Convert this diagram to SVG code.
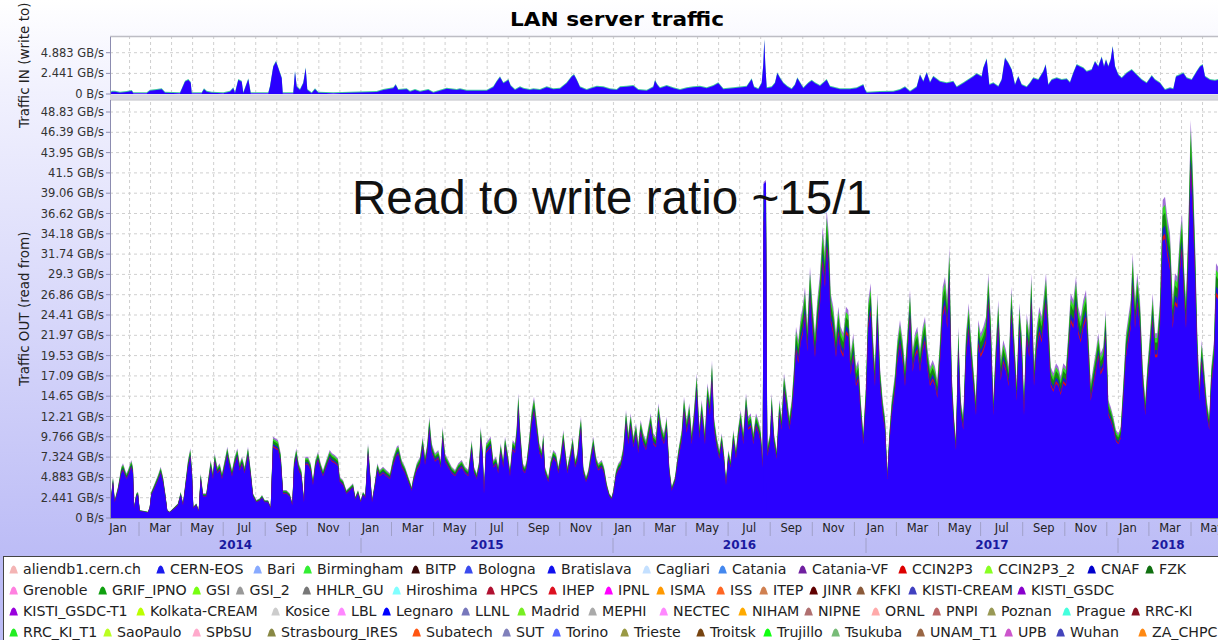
<svg xmlns="http://www.w3.org/2000/svg" xmlns:xlink="http://www.w3.org/1999/xlink" width="1218" height="640" viewBox="0 0 1218 640">
<style>
.ax{font-family:"DejaVu Sans","Liberation Sans",sans-serif;font-size:11.5px;fill:#333}
.yl{text-anchor:end}
.mo{text-anchor:middle;fill:#222}
.yr{font-family:"DejaVu Sans","Liberation Sans",sans-serif;font-size:12px;font-weight:bold;fill:#1a1aa0;text-anchor:middle}
.tt{font-family:"DejaVu Sans","Liberation Sans",sans-serif;font-size:13.5px;fill:#222}
.lg{font-family:"DejaVu Sans","Liberation Sans",sans-serif;font-size:13.5px;fill:#222}
.hg{stroke:#cfcfcf;stroke-width:1;stroke-dasharray:3 3;fill:none}
.axl{stroke:#8c8cb0;stroke-width:1;fill:none}
</style>
<defs>
<linearGradient id="bg" gradientUnits="userSpaceOnUse" x1="0" y1="0" x2="0" y2="556">
<stop offset="0" stop-color="#ffffff"/><stop offset="0.15" stop-color="#f2f2fe"/><stop offset="1" stop-color="#bcbcf6"/>
</linearGradient>
<pattern id="vg" patternUnits="userSpaceOnUse" x="129" y="0" width="21.04" height="640">
<line x1="0.5" y1="0" x2="0.5" y2="640" stroke="#cfcfcf" stroke-width="1" stroke-dasharray="3 3"/>
</pattern>
<clipPath id="clipT"><rect x="110" y="37" width="1108" height="57"/></clipPath>
<clipPath id="clipB"><rect x="110" y="100" width="1108" height="418"/></clipPath>
<path id="ic" d="M0,9 L2,3 Q4.1,-1 6.2,3 L8.2,9 Z"/>
<path id="envT" d="M110,94 L111.7,91.7 L115,91.7 L120,92.7 L126.7,92 L131.7,91 L133.3,93.3 L146.7,93.3 L150,90.7 L156.7,90 L161.7,89.3 L165,92.7 L180,93.3 L185,81.7 L188.3,80 L190.7,82.7 L191.7,93.3 L201.7,93.3 L204,89.3 L206.7,91.7 L211.7,92.7 L223.3,93.3 L230,91.7 L233.3,88.3 L235,93.3 L238.3,80 L241.7,81.7 L243.3,93.3 L248.3,79.3 L250.7,93.3 L268.3,93.3 L270,86.7 L273.3,66.7 L276,61.7 L278.3,68.3 L281.7,78.3 L282.7,93.3 L293.3,93.3 L295,71.7 L296.7,86.7 L300,90 L303.3,83.3 L305.7,68.3 L307.3,90 L311.7,93.3 L315,89.3 L318.3,92.7 L333.3,93.3 L350,92.7 L376.7,92 L383.3,90 L393.3,88.3 L395.7,85 L398.3,90 L406.7,89.3 L410,91.7 L415,90 L420,91.7 L428.3,90 L433.3,92.7 L446.7,88.7 L456.7,90 L460,89.3 L466.7,90.7 L486.7,90.7 L493.3,87.3 L496.7,81.7 L500,77.3 L503.3,83.3 L506,81.7 L508.3,80 L510.7,86 L515,90 L520,87.3 L523.3,88.7 L530,90 L533.3,89.3 L540,90 L546.7,87.3 L553.3,89.3 L560,88.7 L566.7,83.3 L571.7,76.7 L574,75 L576.7,80 L580,87.3 L586.7,90 L591.7,88.3 L596.7,86.7 L603.3,87.3 L610,89.3 L616.7,90 L620,87.3 L626.7,86.7 L633.3,86 L638.3,90 L646.7,90.7 L653.3,87.3 L655,80.7 L657.3,85 L660,88.3 L666.7,86 L673.3,88.3 L680,90 L686.7,88.3 L693.3,87.3 L700,86.7 L706.7,88.3 L713.3,86 L718.3,83.3 L723.3,89.3 L733.3,88.3 L746.7,86.7 L751.7,79.3 L754,87.3 L758.3,89.3 L761.7,83.3 L763.3,65 L764.3,40 L765.3,65 L766.7,88.3 L771.7,87.3 L775,83.3 L777.3,73.3 L780,78.3 L783.3,83.3 L787.3,86.7 L791.7,89.3 L795,85 L797.3,78.3 L800,82.7 L803.3,88.3 L808.3,83.3 L811.7,80.7 L815,83.3 L820,86 L826.7,80 L830,86.7 L840,89.3 L850,89.3 L856.7,88.3 L863.3,85 L865,90 L866.7,92.7 L880,92 L893.3,91.7 L900,90 L905,87.3 L910,91.7 L916.7,87.3 L920,75 L923.3,81.7 L926.7,72.7 L930,82.7 L933.3,76.7 L940,81.7 L946.7,83.3 L953.3,81.7 L956.7,87.3 L963.3,83.3 L968.3,80 L973.3,76.7 L976.7,74 L981.7,76.7 L983.3,68.3 L986.7,59.3 L989.3,85 L993.3,83.3 L998.3,86.7 L1001.7,80 L1005,58.3 L1008.3,63.3 L1011.7,70 L1015,85 L1018.3,76.7 L1021.7,85 L1026.7,87.3 L1030,83.3 L1033.3,78.3 L1038.3,80 L1043.3,71.7 L1045.7,65 L1048.3,85 L1051.7,80 L1056.7,78.3 L1061.7,80 L1066.7,79.3 L1070,82.7 L1073.3,73.3 L1076.7,65 L1080,66.7 L1083.3,68.3 L1086.7,71.7 L1091.7,70 L1095,61.7 L1098.3,66.7 L1101.7,57.3 L1104,66.7 L1106,60 L1108.3,66.7 L1110.7,60 L1112.7,46.7 L1115,66.7 L1118.3,75 L1121.7,78.3 L1126.7,73.3 L1131.7,70 L1136.7,75 L1141.7,80 L1146.7,83.3 L1151.7,76 L1155,80 L1160,83.3 L1165,90 L1170,88.3 L1173.3,89.3 L1176,76.7 L1180,75 L1183.3,73.3 L1186.7,78.3 L1191.7,80 L1196.7,71.7 L1200,66.7 L1202.7,65 L1205,76.7 L1210,80 L1215,80.7 L1218,80 L1218,94 Z"/>
<path id="envB" d="M110,518 L110,507 L113,477 L114.7,500 L118,486.7 L121.3,466.7 L123,463.3 L126.3,473.3 L128,470 L131.3,460 L133,466.7 L134,506.7 L136.3,493.3 L138,491.7 L139.7,510 L148,511.7 L149.7,506.7 L151.3,491.7 L154.7,483.3 L158,475 L160.7,466.7 L163,476.7 L165.3,493.3 L167.3,510 L169.7,511.7 L174.7,506.7 L178,503.3 L180.7,491.7 L183,503.3 L185.3,483.3 L188,460 L190.3,448.3 L192,470 L193.3,506.7 L196.3,503.3 L198.7,510 L200.7,473.3 L203,493.3 L206.3,493.3 L208,480 L210.7,460 L213,473.3 L214.7,453.3 L217.3,466.7 L219.7,463.3 L222,473.3 L224.7,460 L227.3,446.7 L229.7,460 L232,470 L234.7,456.7 L237.3,448.3 L239.7,463.3 L242,456.7 L244.7,466.7 L248,446.7 L250.7,470 L253,493.3 L256.3,500 L259.7,498.3 L262,495 L264.7,500 L268,500 L270.7,506.7 L273,436.7 L275.3,438.3 L278,440 L280.7,453.3 L283,490 L286.3,490 L289.7,493.3 L292.3,503.3 L294,460 L296.3,448.3 L298.7,463.3 L301.3,470 L304,500 L305.3,456.7 L308,456.7 L310.7,463.3 L313,480 L315.3,460 L318,451.7 L320.7,463.3 L323,470 L326.3,460 L329.7,450 L332,453.3 L334.7,455 L338,458.3 L339.7,476.7 L343,480 L346.3,490 L349.7,486.7 L353,483.3 L355.3,496.7 L358,490 L360.7,500 L363,491.7 L365.3,495 L368,443.3 L370,470 L372,500 L374.7,483.3 L377.3,463.3 L379.7,470 L383,466.7 L386.3,470 L390,473.3 L393.3,456.7 L396.7,446.7 L398.3,445 L401.7,460 L405,466.7 L408.3,476.7 L411.7,486.7 L413.3,476.7 L416.7,463.3 L420,456.7 L422.7,436.7 L425,456.7 L427.3,443.3 L429.3,416.7 L431.7,443.3 L435,453.3 L438.3,450 L440.7,460 L442.7,426.7 L445,453.3 L448.3,460 L451.7,466.7 L455,470 L458.3,463.3 L461.7,460 L465,466.7 L468.3,470 L471.7,440 L474,466.7 L476.7,473.3 L479.3,460 L480.7,426.7 L482.7,450 L484,490 L486,443.3 L488.3,440 L490.7,436.7 L493.3,460 L496,456.7 L498.3,466.7 L500.7,443.3 L503.3,460 L505,436.7 L507.3,450 L510,470 L512.7,440 L515,443.3 L516.7,426.7 L518.3,393.3 L520,426.7 L522.7,463.3 L525,466.7 L526.7,460 L529.3,436.7 L531.7,410 L534,396.7 L536.7,420 L539.3,443.3 L541.7,450 L543.3,433.3 L545,466.7 L548.3,476.7 L550.7,460 L553.3,450 L556,453.3 L558.3,466.7 L560.7,453.3 L563.3,430 L565,446.7 L567.3,466.7 L570,453.3 L572.7,436.7 L575,460 L577.3,453.3 L579.3,430 L581,416.7 L583.3,466.7 L586,476.7 L588.3,470 L590.7,453.3 L593.3,436.7 L596,456.7 L598.3,463.3 L601.7,460 L604,466.7 L606.7,483.3 L609.3,493.3 L611.7,496.7 L613.3,490 L616,470 L618.3,463.3 L620.7,460 L623.3,446.7 L626,410 L628.3,433.3 L630.7,413.3 L633.3,436.7 L636,423.3 L638.3,443.3 L640.7,420 L643.3,433.3 L646,440 L648.3,426.7 L650.7,413.3 L653.3,433.3 L656,436.7 L658.3,403.3 L661.7,426.7 L664,433.3 L666.7,416.7 L669.3,466.7 L671.7,486.7 L675,476.7 L678.3,450 L681.7,430 L684,396.7 L686.7,420 L689.3,403.3 L691.7,433.3 L694,410 L696.7,373.3 L699.3,426.7 L701.7,400 L705,433.3 L707.3,383.3 L710,400 L712,360 L714,416.7 L716.7,436.7 L719.3,450 L721.7,433.3 L724,453.3 L726,480 L728.3,450 L730.7,460 L733.3,430 L736,450 L738.3,426.7 L740.7,410 L743.3,433.3 L746,393.3 L748.3,416.7 L750.7,413.3 L753.3,433.3 L756,413.3 L758.3,420 L760.7,430 L762.7,460 L763.6,182 L766,180 L767.3,446.7 L770,433.3 L771.7,393.3 L774,433.3 L776.7,450 L779.3,400 L781.7,416.7 L784,373.3 L786.7,393.3 L789.3,416.7 L791.7,400 L794,366.7 L796,326.7 L798.3,340 L800.7,316.7 L802.7,306.7 L805,286.7 L807.3,326.7 L810,266.7 L812.7,306.7 L815,333.3 L817.3,300 L820,273.3 L822.7,226.7 L825,253.3 L826.7,210 L828.7,233.3 L830.7,293.3 L833.3,306.7 L836,333.3 L838.3,306.7 L840.7,326.7 L843.3,333.3 L846,306.7 L848.3,310 L850.7,353.3 L853.3,333.3 L856,366.7 L858.3,360 L860.7,400 L863.3,433.3 L866,383.3 L868.3,300 L870.7,283.3 L872.7,333.3 L875,366.7 L877.3,293.3 L880,366.7 L882.7,400 L885,416.7 L887.3,473.3 L889.3,433.3 L891.7,400 L895,373.3 L897.3,340 L900,320 L902.7,340 L905,366.7 L907.3,333.3 L910,290 L912.7,350 L915,333.3 L917.3,326.7 L920,350 L922.7,326.7 L925,316.7 L927.3,346.7 L930,366.7 L932.7,360 L935,366.7 L937.3,380 L940,340 L942.7,286.7 L945,276.7 L947.3,300 L949.3,246.7 L951.7,373.3 L954,416.7 L956,440 L958.3,326.7 L960.7,400 L963.3,416.7 L966,333.3 L968.7,303.3 L970.7,333.3 L973.3,366.7 L976,400 L978.3,320 L980.7,333.3 L983.3,326.7 L986,316.7 L988.3,273.3 L990.7,316.7 L993.3,400 L996,340 L998.3,300 L1000.7,360 L1003.3,340 L1006,350 L1008.7,366.7 L1011.3,286.7 L1014,333.3 L1016.7,383.3 L1019.3,303.3 L1021.7,333.3 L1024,400 L1026.7,313.3 L1029.3,333.3 L1031.3,273.3 L1034,366.7 L1036.7,326.7 L1039.3,306.7 L1041.7,316.7 L1044,293.3 L1046,273.3 L1048.3,316.7 L1050.7,366.7 L1053.3,373.3 L1056,363.3 L1058.3,366.7 L1060.7,376.7 L1063.3,363.3 L1066,366.7 L1068.3,333.3 L1070.7,293.3 L1073.3,300 L1076,276.7 L1078.3,306.7 L1080.7,316.7 L1083.3,300 L1086,290 L1088.3,333.3 L1090.7,383.3 L1093.3,366.7 L1096,350 L1098.3,333.3 L1100.7,353.3 L1103.3,346.7 L1105.7,310 L1108.3,400 L1110.7,406.7 L1113.3,416.7 L1116,430 L1118.3,433.3 L1120.7,426.7 L1123.3,383.3 L1126,333.3 L1128.3,316.7 L1130.7,300 L1132.7,253.3 L1135,300 L1137.3,273.3 L1140,300 L1142.7,366.7 L1145.3,400 L1147.3,366.7 L1150,333.3 L1152.7,293.3 L1155,333.3 L1157.3,333.3 L1160,300 L1162.7,200 L1165,196.7 L1167.3,216.7 L1170,233.3 L1172.7,300 L1175,273.3 L1177.3,276.7 L1180,233.3 L1182,213.3 L1184,266.7 L1186,300 L1188.3,226.7 L1190.7,120 L1192.7,166.7 L1195,240 L1197.3,333.3 L1199.3,383.3 L1201.7,340 L1204,366.7 L1206.7,400 L1209.3,416.7 L1211.3,366.7 L1214,340 L1216,263.3 L1218,266.7 L1218,518 Z"/>
</defs>

<rect id="background" x="0" y="0" width="1218" height="640" fill="url(#bg)"/>

<g id="title">
<text x="617" y="26" text-anchor="middle" font-family="DejaVu Sans, Liberation Sans, sans-serif" font-size="19" font-weight="bold" fill="#000" textLength="214" lengthAdjust="spacingAndGlyphs">LAN server traffic</text>
</g>

<g id="plot-in">
<rect x="110" y="37" width="1108" height="57" fill="#ffffff"/>
<rect x="110" y="37" width="1108" height="57" fill="url(#vg)"/>
<path class="hg" d="M110,52.7H1218 M110,73.4H1218"/>
<g clip-path="url(#clipT)">
<use xlink:href="#envT" fill="#40c8a0" transform="translate(0,-1)"/>
<use xlink:href="#envT" fill="#2a00ff"/>
</g>
<line x1="110" y1="36.5" x2="1218" y2="36.5" stroke="#bdbdc4" stroke-width="1.5"/>
<rect x="110" y="94.5" width="1108" height="5" fill="#d6d6de"/>
<path class="axl" d="M110.5,37V94.5 M106,52.7H110 M106,73.4H110 M106,94H110"/>
<text class="ax yl" x="104" y="56.7">4.883 GB/s</text>
<text class="ax yl" x="104" y="77.4">2.441 GB/s</text>
<text class="ax yl" x="104" y="98">0 B/s</text>
</g>

<g id="plot-out">
<rect x="110" y="100" width="1108" height="418" fill="#ffffff"/>
<rect x="110" y="100" width="1108" height="418" fill="url(#vg)"/>
<path class="hg" d="M110,497.7H1218 M110,477.4H1218 M110,457.1H1218 M110,436.8H1218 M110,416.5H1218 M110,396.2H1218 M110,375.9H1218 M110,355.6H1218 M110,335.3H1218 M110,315H1218 M110,294.7H1218 M110,274.4H1218 M110,254.1H1218 M110,233.8H1218 M110,213.5H1218 M110,193.2H1218 M110,172.9H1218 M110,152.6H1218 M110,132.3H1218 M110,112H1218"/>
<g clip-path="url(#clipB)">
<use xlink:href="#envB" fill="#a070d8"/>
<use xlink:href="#envB" fill="#33dd22" transform="matrix(1,0,0,0.975,0,12.95)"/>
<use xlink:href="#envB" fill="#118811" transform="matrix(1,0,0,0.95,0,25.9)"/>
<use xlink:href="#envB" fill="#1a1ad0" transform="matrix(1,0,0,0.91,0,46.62)"/>
<use xlink:href="#envB" fill="#e01010" transform="matrix(1,0,0,0.885,0,59.57)"/>
<use xlink:href="#envB" fill="#2a00ff" transform="matrix(1,0,0,0.87,0,67.34)"/>
<path d="M763,518 L763.6,184 L766,182 L766.6,518 Z" fill="#2a00ff"/>
</g>
<line x1="110" y1="100" x2="1218" y2="100" stroke="#bdbdc4" stroke-width="1"/>
<path class="axl" d="M110.5,100V518.5 M110,518.5H1218"/>
<path class="axl" d="M106,518H110 M106,497.7H110 M106,477.4H110 M106,457.1H110 M106,436.8H110 M106,416.5H110 M106,396.2H110 M106,375.9H110 M106,355.6H110 M106,335.3H110 M106,315H110 M106,294.7H110 M106,274.4H110 M106,254.1H110 M106,233.8H110 M106,213.5H110 M106,193.2H110 M106,172.9H110 M106,152.6H110 M106,132.3H110 M106,112H110"/>
<text class="ax yl" x="104" y="522">0 B/s</text>
<text class="ax yl" x="104" y="501.7">2.441 GB/s</text>
<text class="ax yl" x="104" y="481.4">4.883 GB/s</text>
<text class="ax yl" x="104" y="461.1">7.324 GB/s</text>
<text class="ax yl" x="104" y="440.8">9.766 GB/s</text>
<text class="ax yl" x="104" y="420.5">12.21 GB/s</text>
<text class="ax yl" x="104" y="400.2">14.65 GB/s</text>
<text class="ax yl" x="104" y="379.9">17.09 GB/s</text>
<text class="ax yl" x="104" y="359.6">19.53 GB/s</text>
<text class="ax yl" x="104" y="339.3">21.97 GB/s</text>
<text class="ax yl" x="104" y="319">24.41 GB/s</text>
<text class="ax yl" x="104" y="298.7">26.86 GB/s</text>
<text class="ax yl" x="104" y="278.4">29.3 GB/s</text>
<text class="ax yl" x="104" y="258.1">31.74 GB/s</text>
<text class="ax yl" x="104" y="237.8">34.18 GB/s</text>
<text class="ax yl" x="104" y="217.5">36.62 GB/s</text>
<text class="ax yl" x="104" y="197.2">39.06 GB/s</text>
<text class="ax yl" x="104" y="176.9">41.5 GB/s</text>
<text class="ax yl" x="104" y="156.6">43.95 GB/s</text>
<text class="ax yl" x="104" y="136.3">46.39 GB/s</text>
<text class="ax yl" x="104" y="116">48.83 GB/s</text>
</g>

<g id="axis-titles">
<text class="tt" transform="translate(29,128) rotate(-90)">Traffic IN (write to)</text>
<text class="tt" transform="translate(29,386) rotate(-90)">Traffic OUT (read from)</text>
</g>

<g id="x-axis">
<path d="M139,522v14 M181.1,522v14 M223.2,522v14 M265.2,522v14 M307.3,522v14 M349.4,522v14 M391.5,522v14 M433.6,522v14 M475.6,522v14 M517.7,522v14 M559.8,522v14 M601.9,522v14 M644,522v14 M686,522v14 M728.1,522v14 M770.2,522v14 M812.3,522v14 M854.4,522v14 M896.4,522v14 M938.5,522v14 M980.6,522v14 M1022.7,522v14 M1064.8,522v14 M1106.8,522v14 M1148.9,522v14 M1191,522v14 M361,538v15 M613,538v15 M866,538v15 M1118,538v15" stroke="#a0a0c8" stroke-width="1" fill="none"/>
<text class="ax mo" x="118" y="532">Jan</text>
<text class="ax mo" x="160.1" y="532">Mar</text>
<text class="ax mo" x="202.2" y="532">May</text>
<text class="ax mo" x="244.2" y="532">Jul</text>
<text class="ax mo" x="286.3" y="532">Sep</text>
<text class="ax mo" x="328.4" y="532">Nov</text>
<text class="ax mo" x="370.5" y="532">Jan</text>
<text class="ax mo" x="412.6" y="532">Mar</text>
<text class="ax mo" x="454.6" y="532">May</text>
<text class="ax mo" x="496.7" y="532">Jul</text>
<text class="ax mo" x="538.8" y="532">Sep</text>
<text class="ax mo" x="580.9" y="532">Nov</text>
<text class="ax mo" x="623" y="532">Jan</text>
<text class="ax mo" x="665" y="532">Mar</text>
<text class="ax mo" x="707.1" y="532">May</text>
<text class="ax mo" x="749.2" y="532">Jul</text>
<text class="ax mo" x="791.3" y="532">Sep</text>
<text class="ax mo" x="833.4" y="532">Nov</text>
<text class="ax mo" x="875.4" y="532">Jan</text>
<text class="ax mo" x="917.5" y="532">Mar</text>
<text class="ax mo" x="959.6" y="532">May</text>
<text class="ax mo" x="1001.7" y="532">Jul</text>
<text class="ax mo" x="1043.8" y="532">Sep</text>
<text class="ax mo" x="1085.8" y="532">Nov</text>
<text class="ax mo" x="1127.9" y="532">Jan</text>
<text class="ax mo" x="1170" y="532">Mar</text>
<text class="ax mo" x="1212.1" y="532">May</text>
<text class="yr" x="235.5" y="548.5">2014</text>
<text class="yr" x="487" y="548.5">2015</text>
<text class="yr" x="739.5" y="548.5">2016</text>
<text class="yr" x="992" y="548.5">2017</text>
<text class="yr" x="1168" y="548.5">2018</text>
</g>

<g id="annotation">
<text x="352" y="214" font-family="Liberation Sans, Arial, sans-serif" font-size="47.6" fill="#111">Read to write ratio ~15/1</text>
</g>

<g id="legend">
<rect x="3.5" y="556.5" width="1220" height="90" fill="#ffffff" stroke="#444" stroke-width="1"/>
<g transform="scale(1.05 1)">
<g class="lg">
<g transform="translate(21.9,574)"><use xlink:href="#ic" x="-13" y="-9.5" fill="#f4b4b4"/><text>aliendb1.cern.ch</text></g>
<g transform="translate(161.9,574)"><use xlink:href="#ic" x="-13" y="-9.5" fill="#1a1aee"/><text>CERN-EOS</text></g>
<g transform="translate(254.3,574)"><use xlink:href="#ic" x="-13" y="-9.5" fill="#88aaff"/><text>Bari</text></g>
<g transform="translate(301.9,574)"><use xlink:href="#ic" x="-13" y="-9.5" fill="#33ee33"/><text>Birmingham</text></g>
<g transform="translate(404.8,574)"><use xlink:href="#ic" x="-13" y="-9.5" fill="#3a0808"/><text>BITP</text></g>
<g transform="translate(455.2,574)"><use xlink:href="#ic" x="-13" y="-9.5" fill="#3a4aee"/><text>Bologna</text></g>
<g transform="translate(534.3,574)"><use xlink:href="#ic" x="-13" y="-9.5" fill="#1010ee"/><text>Bratislava</text></g>
<g transform="translate(624.8,574)"><use xlink:href="#ic" x="-13" y="-9.5" fill="#c4e0ff"/><text>Cagliari</text></g>
<g transform="translate(697.1,574)"><use xlink:href="#ic" x="-13" y="-9.5" fill="#4488ee"/><text>Catania</text></g>
<g transform="translate(773.3,574)"><use xlink:href="#ic" x="-13" y="-9.5" fill="#7020a0"/><text>Catania-VF</text></g>
<g transform="translate(868.6,574)"><use xlink:href="#ic" x="-13" y="-9.5" fill="#dd0000"/><text>CCIN2P3</text></g>
<g transform="translate(950.5,574)"><use xlink:href="#ic" x="-13" y="-9.5" fill="#88ff22"/><text>CCIN2P3_2</text></g>
<g transform="translate(1048.6,574)"><use xlink:href="#ic" x="-13" y="-9.5" fill="#0000cc"/><text>CNAF</text></g>
<g transform="translate(1103.8,574)"><use xlink:href="#ic" x="-13" y="-9.5" fill="#107010"/><text>FZK</text></g>

<g transform="translate(21.9,595)"><use xlink:href="#ic" x="-13" y="-9.5" fill="#ff80e0"/><text>Grenoble</text></g>
<g transform="translate(106.7,595)"><use xlink:href="#ic" x="-13" y="-9.5" fill="#10a010"/><text>GRIF_IPNO</text></g>
<g transform="translate(196.2,595)"><use xlink:href="#ic" x="-13" y="-9.5" fill="#77ff11"/><text>GSI</text></g>
<g transform="translate(237.6,595)"><use xlink:href="#ic" x="-13" y="-9.5" fill="#999999"/><text>GSI_2</text></g>
<g transform="translate(301,595)"><use xlink:href="#ic" x="-13" y="-9.5" fill="#777777"/><text>HHLR_GU</text></g>
<g transform="translate(386.7,595)"><use xlink:href="#ic" x="-13" y="-9.5" fill="#80ffff"/><text>Hiroshima</text></g>
<g transform="translate(476.2,595)"><use xlink:href="#ic" x="-13" y="-9.5" fill="#b01030"/><text>HPCS</text></g>
<g transform="translate(535.2,595)"><use xlink:href="#ic" x="-13" y="-9.5" fill="#dd1020"/><text>IHEP</text></g>
<g transform="translate(588.6,595)"><use xlink:href="#ic" x="-13" y="-9.5" fill="#ff00ff"/><text>IPNL</text></g>
<g transform="translate(638.1,595)"><use xlink:href="#ic" x="-13" y="-9.5" fill="#ff9900"/><text>ISMA</text></g>
<g transform="translate(695.2,595)"><use xlink:href="#ic" x="-13" y="-9.5" fill="#ff6622"/><text>ISS</text></g>
<g transform="translate(736.2,595)"><use xlink:href="#ic" x="-13" y="-9.5" fill="#d08050"/><text>ITEP</text></g>
<g transform="translate(783.8,595)"><use xlink:href="#ic" x="-13" y="-9.5" fill="#600000"/><text>JINR</text></g>
<g transform="translate(828.6,595)"><use xlink:href="#ic" x="-13" y="-9.5" fill="#8a5a3a"/><text>KFKI</text></g>
<g transform="translate(878.1,595)"><use xlink:href="#ic" x="-13" y="-9.5" fill="#4040c0"/><text>KISTI-CREAM</text></g>
<g transform="translate(981.9,595)"><use xlink:href="#ic" x="-13" y="-9.5" fill="#8800cc"/><text>KISTI_GSDC</text></g>

<g transform="translate(21.9,616)"><use xlink:href="#ic" x="-13" y="-9.5" fill="#9900dd"/><text>KISTI_GSDC-T1</text></g>
<g transform="translate(142.9,616)"><use xlink:href="#ic" x="-13" y="-9.5" fill="#bbff00"/><text>Kolkata-CREAM</text></g>
<g transform="translate(271.4,616)"><use xlink:href="#ic" x="-13" y="-9.5" fill="#cccccc"/><text>Kosice</text></g>
<g transform="translate(334.3,616)"><use xlink:href="#ic" x="-13" y="-9.5" fill="#ff88ff"/><text>LBL</text></g>
<g transform="translate(377.1,616)"><use xlink:href="#ic" x="-13" y="-9.5" fill="#0000ff"/><text>Legnaro</text></g>
<g transform="translate(452.4,616)"><use xlink:href="#ic" x="-13" y="-9.5" fill="#7777bb"/><text>LLNL</text></g>
<g transform="translate(505.7,616)"><use xlink:href="#ic" x="-13" y="-9.5" fill="#77ee22"/><text>Madrid</text></g>
<g transform="translate(573.3,616)"><use xlink:href="#ic" x="-13" y="-9.5" fill="#aaaaaa"/><text>MEPHI</text></g>
<g transform="translate(641,616)"><use xlink:href="#ic" x="-13" y="-9.5" fill="#ff88ff"/><text>NECTEC</text></g>
<g transform="translate(716.2,616)"><use xlink:href="#ic" x="-13" y="-9.5" fill="#ffaa00"/><text>NIHAM</text></g>
<g transform="translate(779,616)"><use xlink:href="#ic" x="-13" y="-9.5" fill="#b07070"/><text>NIPNE</text></g>
<g transform="translate(842.9,616)"><use xlink:href="#ic" x="-13" y="-9.5" fill="#ffaaaa"/><text>ORNL</text></g>
<g transform="translate(901,616)"><use xlink:href="#ic" x="-13" y="-9.5" fill="#bb6666"/><text>PNPI</text></g>
<g transform="translate(953.3,616)"><use xlink:href="#ic" x="-13" y="-9.5" fill="#999955"/><text>Poznan</text></g>
<g transform="translate(1024.8,616)"><use xlink:href="#ic" x="-13" y="-9.5" fill="#44ffdd"/><text>Prague</text></g>
<g transform="translate(1090.5,616)"><use xlink:href="#ic" x="-13" y="-9.5" fill="#881020"/><text>RRC-KI</text></g>

<g transform="translate(21.9,637)"><use xlink:href="#ic" x="-13" y="-9.5" fill="#22ee22"/><text>RRC_KI_T1</text></g>
<g transform="translate(111.4,637)"><use xlink:href="#ic" x="-13" y="-9.5" fill="#bbff22"/><text>SaoPaulo</text></g>
<g transform="translate(196.2,637)"><use xlink:href="#ic" x="-13" y="-9.5" fill="#ffaacc"/><text>SPbSU</text></g>
<g transform="translate(267.6,637)"><use xlink:href="#ic" x="-13" y="-9.5" fill="#888844"/><text>Strasbourg_IRES</text></g>
<g transform="translate(405.7,637)"><use xlink:href="#ic" x="-13" y="-9.5" fill="#ff5511"/><text>Subatech</text></g>
<g transform="translate(491.4,637)"><use xlink:href="#ic" x="-13" y="-9.5" fill="#8080bb"/><text>SUT</text></g>
<g transform="translate(539,637)"><use xlink:href="#ic" x="-13" y="-9.5" fill="#5566ff"/><text>Torino</text></g>
<g transform="translate(603.8,637)"><use xlink:href="#ic" x="-13" y="-9.5" fill="#999944"/><text>Trieste</text></g>
<g transform="translate(676.2,637)"><use xlink:href="#ic" x="-13" y="-9.5" fill="#774411"/><text>Troitsk</text></g>
<g transform="translate(740,637)"><use xlink:href="#ic" x="-13" y="-9.5" fill="#11ff11"/><text>Trujillo</text></g>
<g transform="translate(804.8,637)"><use xlink:href="#ic" x="-13" y="-9.5" fill="#77bb77"/><text>Tsukuba</text></g>
<g transform="translate(885.7,637)"><use xlink:href="#ic" x="-13" y="-9.5" fill="#996644"/><text>UNAM_T1</text></g>
<g transform="translate(969.5,637)"><use xlink:href="#ic" x="-13" y="-9.5" fill="#cc55cc"/><text>UPB</text></g>
<g transform="translate(1019,637)"><use xlink:href="#ic" x="-13" y="-9.5" fill="#4444bb"/><text>Wuhan</text></g>
<g transform="translate(1097.1,637)"><use xlink:href="#ic" x="-13" y="-9.5" fill="#ff8811"/><text>ZA_CHPC</text></g>
</g>
</g>
</g>
</svg>
